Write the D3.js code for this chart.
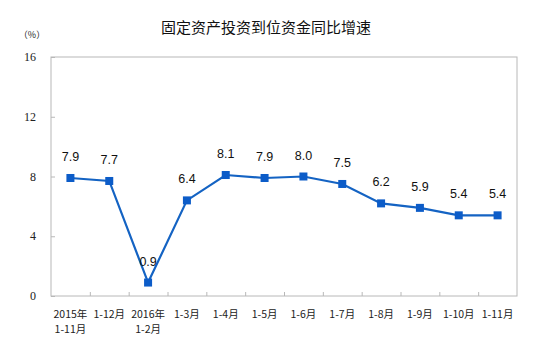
<!DOCTYPE html>
<html><head><meta charset="utf-8">
<script src="https://cdn.jsdelivr.net/npm/d3@7"></script>
<style>body{margin:0;background:#fff}svg{display:block}</style>
</head><body>
<script>
const categories = [["2015年","1-11月"],["1-12月"],["2016年","1-2月"],["1-3月"],["1-4月"],["1-5月"],["1-6月"],["1-7月"],["1-8月"],["1-9月"],["1-10月"],["1-11月"]];
const values = [7.9, 7.7, 0.9, 6.4, 8.1, 7.9, 8.0, 7.5, 6.2, 5.9, 5.4, 5.4];
const yTicks = [0, 4, 8, 12, 16];
const title = "固定资产投资到位资金同比增速";
const unit = "（%）";

const W = 545, H = 354;
const m = {left: 51, right: 28, top: 57, bottom: 58};
const svg = d3.select("body").append("svg").attr("width", W).attr("height", H);
const x = d3.scaleBand().domain(d3.range(categories.length)).range([m.left, W - m.right]).padding(0);
const y = d3.scaleLinear().domain([0, 16]).range([H - m.bottom, m.top]);

svg.append("text").attr("x", 266).attr("y", 33).attr("text-anchor", "middle")
  .attr("font-family", "Noto Sans CJK SC").attr("font-size", 15).attr("fill", "#111").text(title);
svg.append("text").attr("x", 32).attr("y", 38).attr("text-anchor", "middle")
  .attr("font-family", "Noto Sans CJK SC").attr("font-size", 9).attr("fill", "#222").text(unit);

// frame
svg.append("rect").attr("x", m.left).attr("y", m.top).attr("width", W - m.left - m.right).attr("height", H - m.top - m.bottom)
  .attr("fill", "none").attr("stroke", "#b8b8b8").attr("stroke-width", 1);

// y axis
const yAxis = svg.append("g").attr("transform", `translate(${m.left},0)`)
  .call(d3.axisRight(y).tickValues(yTicks).tickSize(4).tickFormat(""));
yAxis.select(".domain").remove();
yAxis.selectAll("line").attr("stroke", "#b8b8b8");
svg.selectAll(".ylab").data(yTicks).join("text").attr("class", "ylab")
  .attr("x", 36).attr("y", d => y(d) + 4).attr("text-anchor", "end")
  .attr("font-family", "Liberation Serif").attr("font-size", 12).attr("fill", "#222").text(d => d);

// x axis ticks (between categories)
const xb = d3.scaleLinear().domain([0, categories.length]).range([m.left, W - m.right]);
const xAxis = svg.append("g").attr("transform", `translate(0,${H - m.bottom})`)
  .call(d3.axisTop(xb).tickValues(d3.range(1, categories.length)).tickSize(4).tickFormat(""));
xAxis.select(".domain").remove();
xAxis.selectAll("line").attr("stroke", "#b8b8b8");

categories.forEach((c, i) => {
  const t = svg.append("text").attr("text-anchor", "middle")
    .attr("font-family", "Noto Sans CJK SC").attr("font-size", 10.5).attr("fill", "#222");
  c.forEach((s, j) => t.append("tspan").attr("x", x(i) + x.bandwidth() / 2).attr("y", 318 + j * 15).text(s));
});

// line
const cx = i => x(i) + x.bandwidth() / 2;
svg.append("path").datum(values)
  .attr("d", d3.line().x((d, i) => cx(i)).y(d => y(d)))
  .attr("fill", "none").attr("stroke", "#1463C3").attr("stroke-width", 2.2);
svg.selectAll(".mk").data(values).join("rect").attr("class", "mk")
  .attr("x", (d, i) => cx(i) - 4).attr("y", d => y(d) - 4).attr("width", 8).attr("height", 8)
  .attr("fill", "#0C5CC8");
svg.selectAll(".vl").data(values).join("text").attr("class", "vl")
  .attr("x", (d, i) => cx(i)).attr("y", d => y(d) - 17).attr("text-anchor", "middle")
  .attr("font-family", "Liberation Sans").attr("font-size", 12.5).attr("fill", "#111")
  .text(d => d.toFixed(1));
</script>
</body></html>
